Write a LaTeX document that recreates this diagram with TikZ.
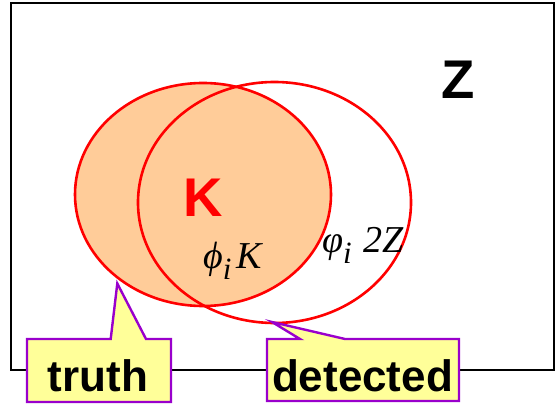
\documentclass[tikz,border=0pt]{standalone}
\usepackage{fontspec}
\setmainfont{Liberation Sans}
\newfontfamily\tms{Liberation Serif}
\definecolor{peach}{HTML}{FFCC99}
\definecolor{calloutfill}{HTML}{FFFF99}
\definecolor{calloutline}{HTML}{9900CC}
\begin{document}
\begin{tikzpicture}[x=1pt,y=-1pt,
  frame/.style={draw=black,line width=2.4pt},
  setline/.style={draw=red,line width=2.6pt},
  callout/.style={draw=calloutline,fill=calloutfill,line width=2.4pt,line join=miter},
  biglbl/.style={font=\bfseries\fontsize{54.5}{54.5}\selectfont,inner sep=0pt},
  boxlbl/.style={font=\bfseries\fontsize{44}{44}\selectfont,inner sep=0pt},
  mathlbl/.style={font=\tms\itshape\fontsize{38}{38}\selectfont,inner sep=0pt}]
\useasboundingbox (0,0) rectangle (558,404);
% universe
\draw[frame] (11,3) rectangle (554,370);
% truth set K
\coordinate (kc) at (203,194.5);
\coordinate (dc) at (274.5,202.5);
\fill[peach] (kc) ellipse [x radius=128pt, y radius=111.5pt];
\draw[setline] (kc) ellipse [x radius=128pt, y radius=111.5pt];
% detected set
\draw[setline] (dc) ellipse [x radius=136.5pt, y radius=120.5pt];
% labels
\node[biglbl,anchor=base] (z) at (458.5,99) {Z};
\node[biglbl,text=red,anchor=base] (k) at (203.5,217) {K};
\node[mathlbl,anchor=base west] (phik) at (203,269)
  {ϕ\raisebox{-11pt}{\fontsize{31}{31}\selectfont i}\hspace{5pt}K};
\node[mathlbl,anchor=base west] (phiz) at (322,252)
  {φ\raisebox{-11pt}{\fontsize{31}{31}\selectfont i}\hspace{12pt}2Z};
% callouts
\coordinate (truthtip) at (117.3,283.5);
\coordinate (dettip) at (272,322);
\draw[callout] (27,339) -- (110.7,339) -- (truthtip) -- (146,339) -- (171,339)
  -- (171,402) -- (27,402) -- cycle;
\draw[callout] (267,339) -- (300,339) -- (dettip) -- (345,339) -- (459,339)
  -- (459,401) -- (267,401) -- cycle;
\node[boxlbl,anchor=base] (truth) at (98,391.7) {truth};
\node[boxlbl,anchor=base] (detected) at (362.5,391.7) {detected};
\end{tikzpicture}
\end{document}
